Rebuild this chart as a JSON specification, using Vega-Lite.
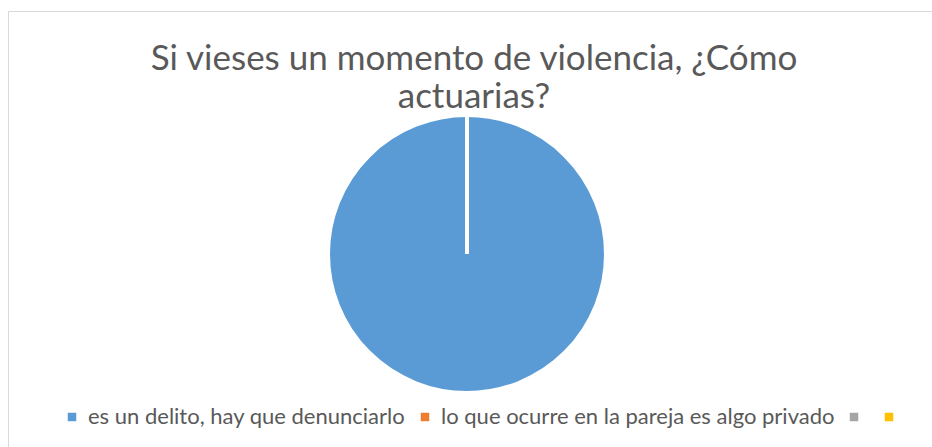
{
  "$schema": "https://vega.github.io/schema/vega-lite/v6.json",
  "width": 932,
  "height": 447,
  "autosize": {"type": "fit", "contains": "padding"},
  "padding": {"left": 8, "top": 11, "right": 0, "bottom": 0},
  "background": "white",
  "view": {"stroke": "#d9d9d9", "strokeWidth": 1, "fill": "white"},
  "title": {
    "text": ["Si vieses un momento de violencia, ¿Cómo", "actuarias?"],
    "font": "Lato",
    "fontSize": 35,
    "fontWeight": "normal",
    "color": "#595959",
    "anchor": "middle",
    "frame": "group",
    "lineHeight": 38,
    "offset": -104,
    "dx": 4
  },
  "data": {
    "values": [
      {"respuesta": "es un delito, hay que denunciarlo", "valor": 1},
      {"respuesta": "lo que ocurre en la pareja es algo privado", "valor": 0},
      {"respuesta": "", "valor": 0},
      {"respuesta": " ", "valor": 0}
    ]
  },
  "mark": {"type": "arc", "outerRadius": 139, "stroke": "white", "strokeWidth": 4, "yOffset": 25, "xOffset": -3},
  "encoding": {
    "theta": {"field": "valor", "type": "quantitative", "stack": true},
    "color": {
      "field": "respuesta",
      "type": "nominal",
      "sort": null,
      "scale": {
        "domain": ["es un delito, hay que denunciarlo", "lo que ocurre en la pareja es algo privado", "", " "],
        "range": ["#5B9BD5", "#ED7D31", "#A5A5A5", "#FFC000"]
      },
      "legend": {
        "title": null,
        "orient": "none",
        "direction": "horizontal",
        "legendX": 53,
        "legendY": 395,
        "symbolType": "square",
        "symbolSize": 72,
        "symbolStrokeWidth": 0,
        "labelFont": "Lato",
        "labelFontSize": 22,
        "labelColor": "#595959",
        "labelLimit": 0,
        "labelOffset": 5,
        "columnPadding": 8,
        "padding": 0
      }
    }
  }
}
